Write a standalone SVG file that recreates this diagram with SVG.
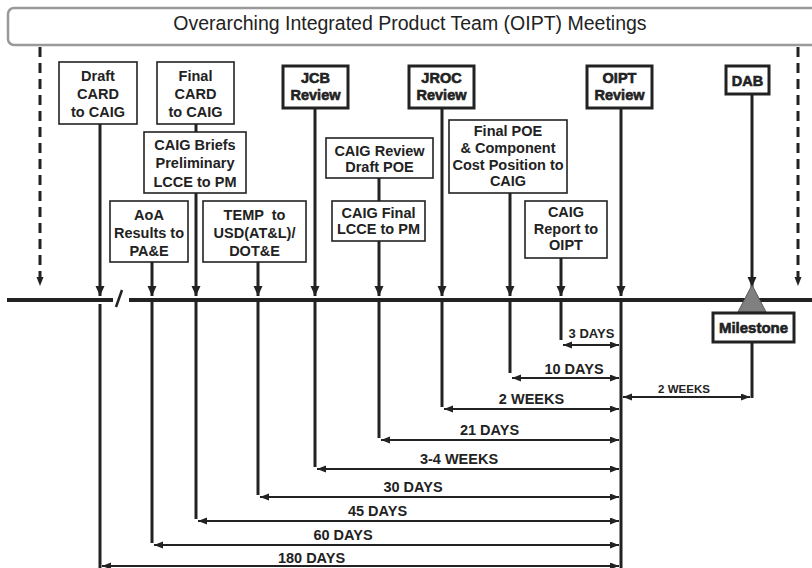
<svg xmlns="http://www.w3.org/2000/svg" width="812" height="568" viewBox="0 0 812 568">
<defs>
<marker id="ah" markerUnits="userSpaceOnUse" markerWidth="10" markerHeight="10" refX="10" refY="4.5" orient="auto"><path d="M0,0 L10,4.5 L0,9 z" fill="#222"/></marker>
<marker id="as" markerUnits="userSpaceOnUse" markerWidth="10" markerHeight="8" refX="9" refY="3.5" orient="auto-start-reverse"><path d="M0,0 L9,3.5 L0,7 z" fill="#222"/></marker>
</defs>
<style>
text{font-family:"Liberation Sans",Arial,sans-serif;fill:#222;text-anchor:middle}
.hd{font-size:19.5px}
.b{font-size:14.5px;font-weight:bold}
.h{font-size:14.5px;font-weight:bold;stroke:#222;stroke-width:0.6}
.box{fill:#fff;stroke:#222;stroke-width:1.6}
.hbox{fill:#fff;stroke:#222;stroke-width:3}
.v{stroke:#222;stroke-width:3;fill:none}
.dim{stroke:#222;stroke-width:2;fill:none}
.d{stroke:#222;stroke-width:3;stroke-dasharray:10 6;fill:none}
.lbl{font-size:14.5px;font-weight:bold}
</style>
<g id="header">
<rect x="8" y="8" width="810" height="37" rx="6" fill="#fff" stroke="#999" stroke-width="2.5"/>
<text class="hd" x="410" y="30">Overarching Integrated Product Team (OIPT) Meetings</text>
</g>
<g id="connectors">
<path class="d" d="M40,47 V286" marker-end="url(#as)"/>
<path class="d" d="M798,47 V286" marker-end="url(#as)"/>
<path d="M7,300 H113 M129,300 H812" stroke="#222" stroke-width="4"/>
<path d="M116,307 L122,290" stroke="#222" stroke-width="2.5"/>
<path class="v" d="M100,124 V296" marker-end="url(#ah)"/>
<path class="v" d="M196,124 V132"/>
<path class="v" d="M196,193 V296" marker-end="url(#ah)"/>
<path class="v" d="M152,262 V296" marker-end="url(#ah)"/>
<path class="v" d="M258,262 V296" marker-end="url(#ah)"/>
<path class="v" d="M315,108 V296" marker-end="url(#ah)"/>
<path class="v" d="M379,178 V201"/>
<path class="v" d="M379,241 V296" marker-end="url(#ah)"/>
<path class="v" d="M442,108 V296" marker-end="url(#ah)"/>
<path class="v" d="M510,193 V296" marker-end="url(#ah)"/>
<path class="v" d="M561,258 V296" marker-end="url(#ah)"/>
<path class="v" d="M621,108 V296" marker-end="url(#ah)"/>
<path class="v" d="M752,94 V287" marker-end="url(#ah)"/>
<path class="v" d="M100,304 V568"/>
<path class="v" d="M152,302 V543"/>
<path class="v" d="M196,302 V519"/>
<path class="v" d="M258,302 V495"/>
<path class="v" d="M315,302 V467"/>
<path class="v" d="M379,302 V438"/>
<path class="v" d="M442,302 V407"/>
<path class="v" d="M510,302 V373"/>
<path class="v" d="M561,302 V340"/>
<path class="v" d="M621,302 V568"/>
<path class="v" d="M752,342 V398"/>
<path class="dim" d="M563,345 H619" marker-start="url(#as)" marker-end="url(#as)"/>
<path class="dim" d="M512,378 H619" marker-start="url(#as)" marker-end="url(#as)"/>
<path class="dim" d="M444,409 H619" marker-start="url(#as)" marker-end="url(#as)"/>
<path class="dim" d="M381,440 H619" marker-start="url(#as)" marker-end="url(#as)"/>
<path class="dim" d="M317,469 H619" marker-start="url(#as)" marker-end="url(#as)"/>
<path class="dim" d="M260,497 H619" marker-start="url(#as)" marker-end="url(#as)"/>
<path class="dim" d="M198,521 H619" marker-start="url(#as)" marker-end="url(#as)"/>
<path class="dim" d="M154,545 H619" marker-start="url(#as)" marker-end="url(#as)"/>
<path class="dim" d="M102,566 H619" marker-start="url(#as)" marker-end="url(#as)"/>
<path class="dim" d="M623,397 H750" marker-start="url(#as)" marker-end="url(#as)"/>
</g>
<g id="labels">
<text class="lbl" x="591.5" y="338" style="font-size:13px">3 DAYS</text>
<text class="lbl" x="574" y="374">10 DAYS</text>
<text class="lbl" x="531.5" y="404">2 WEEKS</text>
<text class="lbl" x="489.5" y="435">21 DAYS</text>
<text class="lbl" x="459" y="464">3-4 WEEKS</text>
<text class="lbl" x="413" y="492">30 DAYS</text>
<text class="lbl" x="377.5" y="516">45 DAYS</text>
<text class="lbl" x="343" y="540">60 DAYS</text>
<text class="lbl" x="311.5" y="563">180 DAYS</text>
<text class="lbl" x="684" y="393" style="font-size:11.5px">2 WEEKS</text>
</g>
<g id="draft-card"><rect class="box" x="59" y="62" width="78" height="62"/>
<text class="b" x="98" y="81">Draft</text><text class="b" x="98" y="98.5">CARD</text><text class="b" x="98" y="116.5">to CAIG</text></g>
<g id="final-card"><rect class="box" x="157" y="62" width="77" height="62"/>
<text class="b" x="195.5" y="81">Final</text><text class="b" x="195.5" y="98.5">CARD</text><text class="b" x="195.5" y="116.5">to CAIG</text></g>
<g id="caig-briefs"><rect class="box" x="144" y="132" width="102" height="61"/>
<text class="b" x="195" y="150">CAIG Briefs</text><text class="b" x="195" y="168">Preliminary</text><text class="b" x="195" y="186.5">LCCE to PM</text></g>
<g id="aoa"><rect class="box" x="110" y="201" width="78" height="61"/>
<text class="b" x="149" y="220">AoA</text><text class="b" x="149" y="238">Results to</text><text class="b" x="149" y="256">PA&amp;E</text></g>
<g id="temp"><rect class="box" x="203" y="201" width="103" height="61"/>
<text class="b" x="254.5" y="220" xml:space="preserve">TEMP  to</text><text class="b" x="254.5" y="238">USD(AT&amp;L)/</text><text class="b" x="254.5" y="256">DOT&amp;E</text></g>
<g id="jcb"><rect class="hbox" x="283" y="66" width="65" height="42"/>
<text class="h" x="315.5" y="83">JCB</text><text class="h" x="315.5" y="100">Review</text></g>
<g id="caig-review"><rect class="box" x="326" y="138" width="107" height="40"/>
<text class="b" x="379.5" y="156">CAIG Review</text><text class="b" x="379.5" y="172">Draft POE</text></g>
<g id="caig-final"><rect class="box" x="332" y="201" width="93" height="40"/>
<text class="b" x="378.5" y="218">CAIG Final</text><text class="b" x="378.5" y="234">LCCE to PM</text></g>
<g id="jroc"><rect class="hbox" x="409" y="66" width="65" height="42"/>
<text class="h" x="441.5" y="83">JROC</text><text class="h" x="441.5" y="100">Review</text></g>
<g id="final-poe"><rect class="box" x="449" y="120" width="118" height="73"/>
<text class="b" x="508" y="136">Final POE</text><text class="b" x="508" y="153">&amp; Component</text><text class="b" x="508" y="169.5">Cost Position to</text><text class="b" x="508" y="185.5">CAIG</text></g>
<g id="caig-report"><rect class="box" x="525" y="201" width="82" height="57"/>
<text class="b" x="566" y="217">CAIG</text><text class="b" x="566" y="234">Report to</text><text class="b" x="566" y="250">OIPT</text></g>
<g id="oipt"><rect class="hbox" x="587" y="66" width="65" height="42"/>
<text class="h" x="619.5" y="83">OIPT</text><text class="h" x="619.5" y="100">Review</text></g>
<g id="dab"><rect class="hbox" x="726" y="66" width="43" height="28"/>
<text class="h" x="747.5" y="86">DAB</text></g>
<g id="milestone"><path d="M752,285 L766,312 L738,312 z" fill="#808080" stroke="#555" stroke-width="1"/>
<rect class="hbox" x="713" y="313" width="81" height="29"/>
<text class="h" x="753.5" y="333" style="font-size:15px">Milestone</text></g>
</svg>
